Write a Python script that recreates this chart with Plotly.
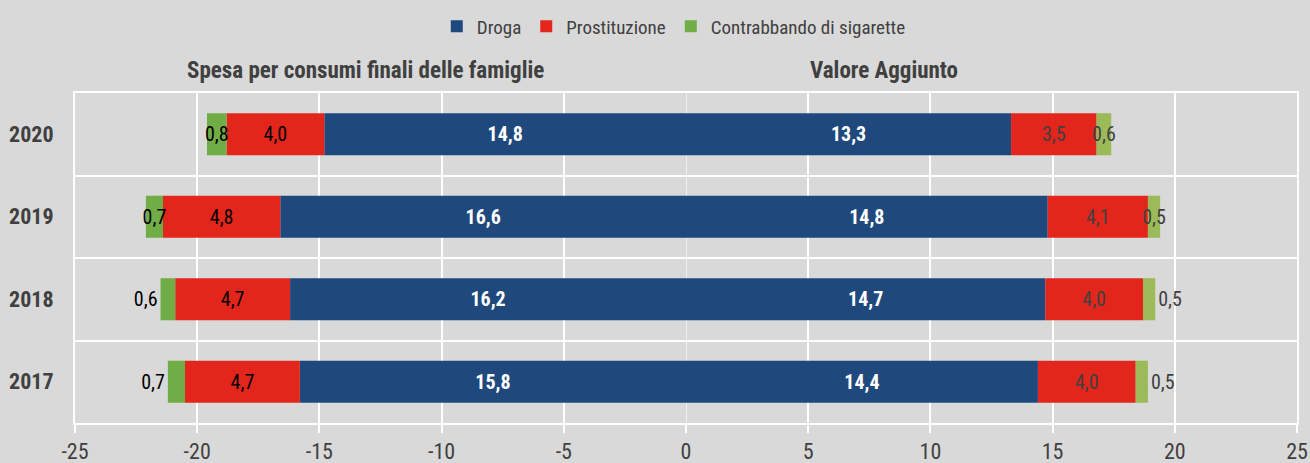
import plotly.graph_objects as go

years = ["2017", "2018", "2019", "2020"]

# Spesa per consumi finali delle famiglie (left side)
spesa_droga = [15.8, 16.2, 16.6, 14.8]
spesa_prost = [4.7, 4.7, 4.8, 4.0]
spesa_sig = [0.7, 0.6, 0.7, 0.8]

# Valore Aggiunto (right side)
va_droga = [14.4, 14.7, 14.8, 13.3]
va_prost = [4.0, 4.0, 4.1, 3.5]
va_sig = [0.5, 0.5, 0.5, 0.6]

x_tickvals = [-25, -20, -15, -10, -5, 0, 5, 10, 15, 20, 25]
x_ticktext = ["-25", "-20", "-15", "-10", "-5", "0", "5", "10", "15", "20", "25"]

series_names = ["Droga", "Prostituzione", "Contrabbando di sigarette"]
panel_titles = ["Spesa per consumi finali delle famiglie", "Valore Aggiunto"]

BLUE = "#1f497d"
RED = "#e3261b"
GREEN_L = "#70ad47"
GREEN_R = "#9bbb59"
BG = "#d9d9d9"
FONT = "Liberation Sans Narrow, Arial Narrow, Roboto Condensed, Liberation Sans, sans-serif"
LBL = 20


def fmt(vals):
    return [f"{v:.1f}".replace(".", ",") for v in vals]


def neg(vals):
    return [-v for v in vals]


fig = go.Figure()

common = dict(orientation="h", textangle=0, constraintext="none",
              cliponaxis=False, marker_line_width=0, hoverinfo="skip")

# Droga
fig.add_trace(go.Bar(y=years, x=neg(spesa_droga), text=fmt(spesa_droga), name=series_names[0],
                     legendgroup="d", marker_color=BLUE, textposition="inside",
                     insidetextanchor="middle",
                     textfont=dict(color="white", size=LBL, family=FONT, weight="bold"), **common))
fig.add_trace(go.Bar(y=years, x=va_droga, text=fmt(va_droga), name=series_names[0],
                     legendgroup="d", showlegend=False, marker_color=BLUE, textposition="inside",
                     insidetextanchor="middle",
                     textfont=dict(color="white", size=LBL, family=FONT, weight="bold"), **common))
# Prostituzione
fig.add_trace(go.Bar(y=years, x=neg(spesa_prost), text=fmt(spesa_prost), name=series_names[1],
                     legendgroup="p", marker_color=RED, textposition="inside",
                     insidetextanchor="middle",
                     textfont=dict(color="black", size=LBL, family=FONT), **common))
fig.add_trace(go.Bar(y=years, x=va_prost, text=fmt(va_prost), name=series_names[1],
                     legendgroup="p", showlegend=False, marker_color=RED, textposition="inside",
                     insidetextanchor="middle",
                     textfont=dict(color="#404040", size=LBL, family=FONT), **common))
# Sigarette
pos = ["outside", "outside", "inside", "inside"]
fig.add_trace(go.Bar(y=years, x=neg(spesa_sig), text=fmt(spesa_sig), name=series_names[2],
                     legendgroup="s", marker_color=GREEN_L, textposition=pos,
                     insidetextanchor="middle",
                     textfont=dict(color="black", size=LBL, family=FONT), **common))
fig.add_trace(go.Bar(y=years, x=va_sig, text=fmt(va_sig), name=series_names[2],
                     legendgroup="s", showlegend=False, marker_color=GREEN_R, textposition=pos,
                     insidetextanchor="middle",
                     textfont=dict(color="#404040", size=LBL, family=FONT), **common))

fig.update_layout(
    width=1310, height=463,
    barmode="relative", bargap=0.49,
    paper_bgcolor=BG, plot_bgcolor=BG,
    margin=dict(l=75, r=13, t=93, b=40, autoexpand=False),
    font=dict(family=FONT, color="#404040", size=19),
    legend=dict(orientation="h", x=0.49, xanchor="center", y=0.984, yref="container",
                yanchor="top", font=dict(size=19, color="#404040"), traceorder="normal",
                itemwidth=30, bgcolor="rgba(0,0,0,0)"),
    xaxis=dict(range=[-25, 25], tickvals=x_tickvals, ticktext=x_ticktext,
               showgrid=True, gridcolor="white", gridwidth=2,
               zeroline=True, zerolinecolor="rgba(255,255,255,0.6)", zerolinewidth=1,
               showline=True, mirror=True, linecolor="white", linewidth=2,
               ticks="outside", ticklen=8, tickcolor="white", tickwidth=2,
               automargin=False,
               tickfont=dict(size=22, color="#404040")),
    yaxis=dict(type="category", categoryorder="array", categoryarray=years,
               tickson="boundaries", showgrid=True, gridcolor="white", gridwidth=2,
               showline=True, mirror=True, linecolor="white", linewidth=2,
               ticks="", ticklabelstandoff=15, automargin=False,
               tickfont=dict(size=22, color="#404040", weight="bold")),
    annotations=[
        dict(text=panel_titles[0], x=-13.1, y=1.0, xref="x", yref="paper", yanchor="middle",
             yshift=23, showarrow=False, font=dict(size=23, color="#404040", weight="bold")),
        dict(text=panel_titles[1], x=8.1, y=1.0, xref="x", yref="paper", yanchor="middle",
             yshift=23, showarrow=False, font=dict(size=23, color="#404040", weight="bold")),
    ],
)

fig.write_html(
    "out.html",
    config={"displayModeBar": False},
    post_script="document.body.style.margin='0';document.body.style.background='#d9d9d9';",
)
